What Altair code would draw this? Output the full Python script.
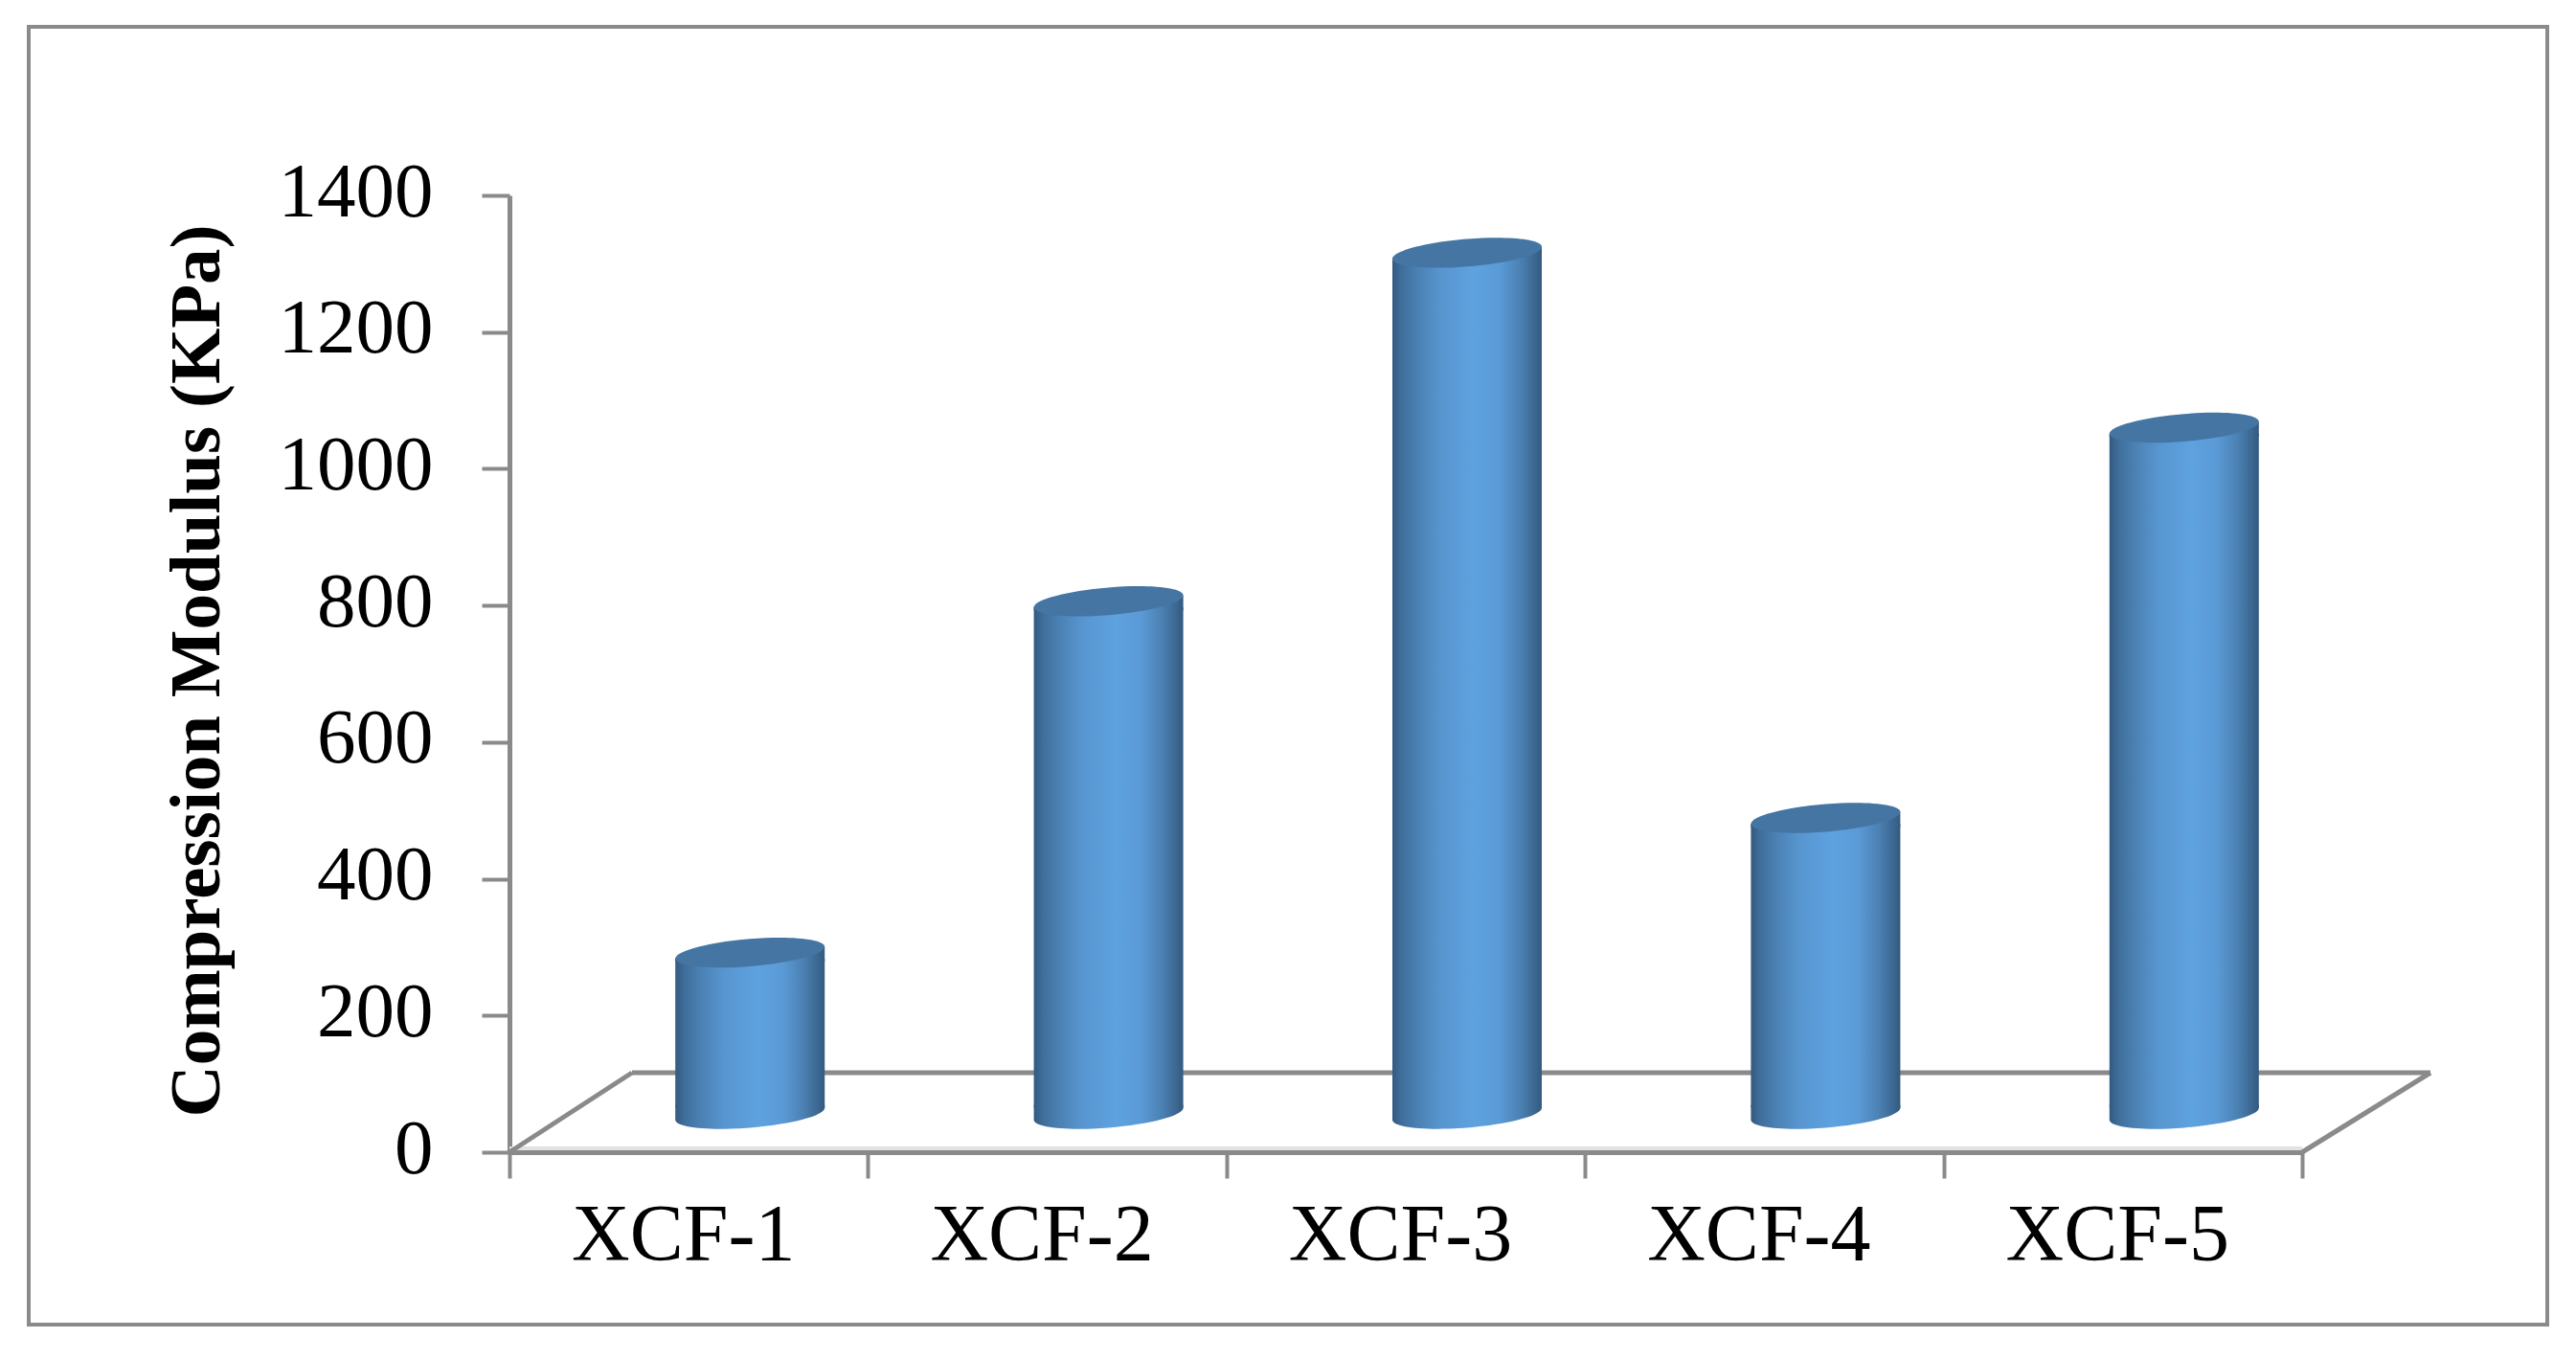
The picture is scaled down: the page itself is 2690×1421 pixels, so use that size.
import altair as alt
import pandas as pd

categories = ["XCF-1", "XCF-2", "XCF-3", "XCF-4", "XCF-5"]
values = [236, 750, 1260, 433, 1004]
y_ticks = [0, 200, 400, 600, 800, 1000, 1200, 1400]

W, H = 1872, 999
GREY = "#8a8a8a"
FONT = "Liberation Serif"
BAR = 156
DX, DY = 64, -40
INSET = 9  # half the tilt of the cylinder ends, in value units

df = pd.DataFrame({"cat": categories, "value": values})
df["zero"] = 0
df["top"] = df["value"] - INSET
df["base"] = INSET

grad = alt.Gradient(
    gradient="linear", x1=0, x2=1, y1=0, y2=0,
    stops=[
        alt.GradientStop(color="#33597f", offset=0.0),
        alt.GradientStop(color="#3f6e9b", offset=0.06),
        alt.GradientStop(color="#4b81b3", offset=0.17),
        alt.GradientStop(color="#5795cf", offset=0.32),
        alt.GradientStop(color="#5ea2e0", offset=0.55),
        alt.GradientStop(color="#5a9ad6", offset=0.72),
        alt.GradientStop(color="#4b80b2", offset=0.86),
        alt.GradientStop(color="#3c6892", offset=0.95),
        alt.GradientStop(color="#335a80", offset=1.0),
    ],
)

ELLIPSE = ("M-1,0.08 C-1,-0.022 -0.552,-0.141 0,-0.185 C0.552,-0.229 1,-0.182 1,-0.08 "
           "C1,0.022 0.552,0.141 0,0.185 C-0.552,0.229 -1,0.182 -1,0.08 Z")
LOWER = "M-1,-0.12 L1,-0.12 L1,-0.08 C1,0.022 0.552,0.141 0,0.185 C-0.552,0.229 -1,0.182 -1,0.08 Z"
UPPER = "M-1,0.08 L1,-0.08 L1,0.12 L-1,0.12 Z"

x_scale = alt.Scale(domain=categories, paddingInner=0, paddingOuter=0)
y_scale = alt.Scale(domain=[0, 1400], nice=False, zero=False)

x_axis = alt.Axis(
    title=None, labelAngle=0, tickBand="extent", tickSize=27, tickWidth=4, tickColor=GREY,
    domainColor=GREY, domainWidth=5, labelFont=FONT, labelFontSize=84, labelColor="#000000",
    labelPadding=19, labelOffset=-6, grid=False, labelBaseline="top", labelLimit=0,
)
y_axis = alt.Axis(
    title="Compression Modulus (KPa)", values=y_ticks, format="d", tickSize=29, tickWidth=4,
    tickColor=GREY, domainColor=GREY, domainWidth=5, labelFont=FONT, labelFontSize=81,
    labelColor="#000000", labelPadding=51, labelOffset=-3, labelLimit=0, grid=False,
    titleFont=FONT, titleFontSize=75, titleFontWeight="bold", titleColor="#000000",
    titleX=-327, titleY=496, titleBaseline="middle", titleAlign="center",
)


def X():
    return alt.X("cat:N", sort=categories, scale=x_scale, axis=x_axis)


def Y(field):
    return alt.Y(f"{field}:Q", scale=y_scale, axis=y_axis)


def line(x, x2, y, y2, width=5, color=GREY):
    return alt.Chart(df.head(1)).mark_rule(color=color, strokeWidth=width).encode(
        x=alt.value(x), x2=alt.value(x2), y=alt.value(y), y2=alt.value(y2)
    )


frame = alt.Chart(df.head(1)).mark_rect(fillOpacity=0, stroke=GREY, strokeWidth=4).encode(
    x=alt.value(-502), x2=alt.value(2128), y=alt.value(-176), y2=alt.value(1179)
)

shadow = line(0, W, H - 4, H - 4, width=4, color="#e2e2e2")
floor_back = line(128, 2006, 916, 916)
floor_left = line(0, 128, H, 916)
floor_right = line(W, 2006, H, 916)

body = alt.Chart(df).mark_bar(size=BAR, xOffset=DX, yOffset=DY, y2Offset=DY, color=grad).encode(
    x=X(), y=Y("top"), y2=alt.Y2("base:Q")
)

pt = dict(size=BAR * BAR, filled=True, strokeWidth=0, opacity=1, xOffset=DX, yOffset=DY)
bottom = alt.Chart(df).mark_point(shape=LOWER, fill=grad, **pt).encode(x=X(), y=Y("zero"))
upper = alt.Chart(df).mark_point(shape=UPPER, fill=grad, **pt).encode(x=X(), y=Y("value"))
cap = alt.Chart(df).mark_point(shape=ELLIPSE, fill="#4575a3", **pt).encode(x=X(), y=Y("value"))

chart = alt.layer(
    frame, shadow, floor_back, floor_left, floor_right, body, bottom, upper, cap
).properties(
    width=W, height=H, autosize="none",
    padding={"left": 524, "top": 196, "right": 278, "bottom": 210},
    background="#ffffff",
).configure_view(stroke=None)

chart.save("out.html", embed_options={"renderer": "svg", "actions": False})
